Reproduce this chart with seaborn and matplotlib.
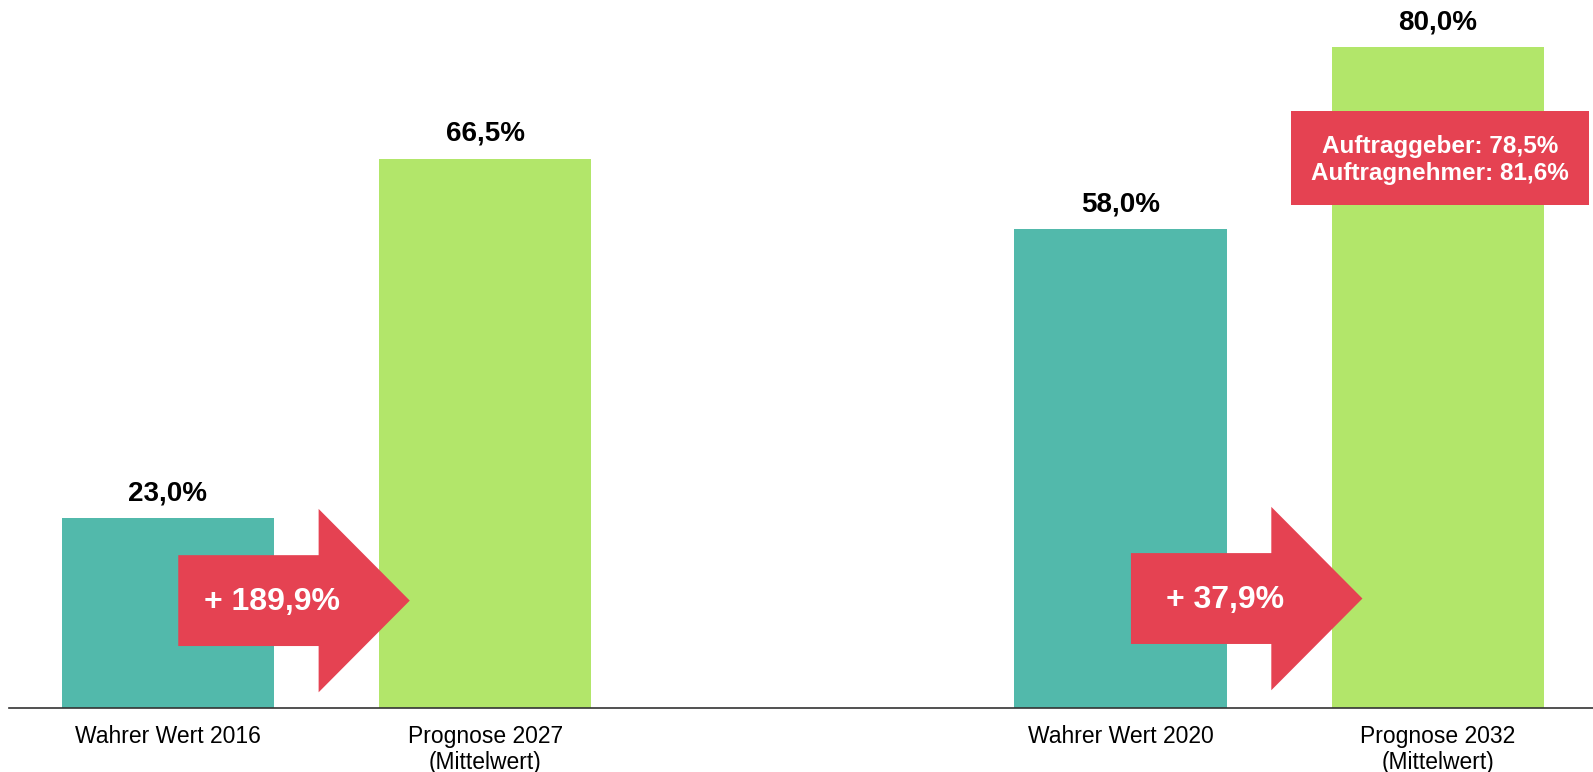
import matplotlib
matplotlib.use("Agg")
import matplotlib.pyplot as plt
from matplotlib.patches import Polygon, Rectangle
import seaborn as sns
import pandas as pd

# ---- data ----
categories = ["Wahrer Wert 2016", "Prognose 2027\n(Mittelwert)",
              "Wahrer Wert 2020", "Prognose 2032\n(Mittelwert)"]
positions = [0, 1, 3, 4]
values = [23.0, 66.5, 58.0, 80.0]
kinds = ["Wahrer Wert", "Prognose", "Wahrer Wert", "Prognose"]
value_labels = ["23,0%", "66,5%", "58,0%", "80,0%"]
growth_labels = ["+ 189,9%", "+ 37,9%"]
box_lines = ["Auftraggeber: 78,5%", "Auftragnehmer: 81,6%"]

TEAL = "#52B9AB"
GREEN = "#B2E66A"
RED = "#E54252"

sns.set_theme(style="white")
plt.rcParams["font.family"] = ["Liberation Sans", "DejaVu Sans"]

df = pd.DataFrame({"pos": positions, "value": values, "kind": kinds})

fig = plt.figure(figsize=(15.93, 7.72), dpi=100)
ax = fig.add_axes([9 / 1593, (772 - 708) / 772, (1593 - 9) / 1593, 708 / 772])

sns.barplot(data=df, x="pos", y="value", hue="kind",
            palette={"Wahrer Wert": TEAL, "Prognose": GREEN},
            native_scale=True, dodge=False, width=0.668, legend=False,
            saturation=1, ax=ax, linewidth=0)

ax.set_xlim(-0.50, 4.488)
ax.set_ylim(0, 85.7)

# value labels
for p, v, lab in zip(positions, values, value_labels):
    ax.text(p, v + 3.0, lab, ha="center", va="center",
            fontsize=20, fontweight="bold", color="black")

# growth arrows
pairs = [(positions[0], positions[1]), (positions[2], positions[3])]
cys = [13.0, 13.25]
for (a, b), cy, lab in zip(pairs, cys, growth_labels):
    x0 = a + 0.033
    xh = b - 0.525
    xt = b - 0.238
    bh, hh = 5.5, 11.1
    pts = [(x0, cy - bh), (x0, cy + bh), (xh, cy + bh), (xh, cy + hh),
           (xt, cy), (xh, cy - hh), (xh, cy - bh)]
    ax.add_patch(Polygon(pts, closed=True, facecolor=RED, edgecolor="none", zorder=5))
    ax.text(x0 + 0.295, cy - 0.15, lab, ha="center", va="center",
            fontsize=23, fontweight="bold", color="white", zorder=6)

# box on last bar
bx0, bx1 = positions[3] - 0.463, positions[3] + 0.476
by0, by1 = 60.9, 72.3
ax.add_patch(Rectangle((bx0, by0), bx1 - bx0, by1 - by0,
                       facecolor=RED, edgecolor="none", zorder=5))
ax.text((bx0 + bx1) / 2, (by0 + by1) / 2 - 0.3, "\n".join(box_lines),
        ha="center", va="center", fontsize=17.5, fontweight="bold",
        color="white", linespacing=1.2, zorder=6)

# axes styling
ax.set_xticks(positions)
ax.set_xticklabels(categories, fontsize=16.5, linespacing=1.15, color="black")
ax.tick_params(axis="x", length=0, pad=12.5)
ax.set_yticks([])
ax.set_xlabel("")
ax.set_ylabel("")
for s in ["left", "right", "top"]:
    ax.spines[s].set_visible(False)
ax.spines["bottom"].set_color("#333333")
ax.spines["bottom"].set_linewidth(1.2)

fig.savefig("out.png", dpi=100)
